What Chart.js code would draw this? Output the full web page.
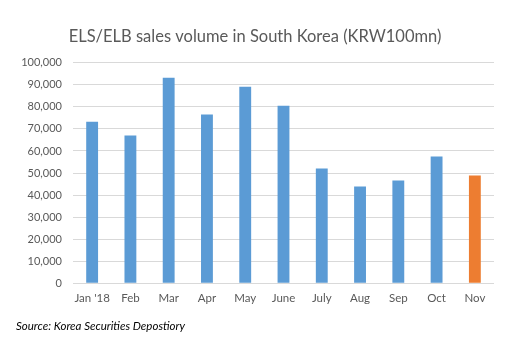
<!DOCTYPE html>
<html>
<head>
<meta charset="utf-8">
<script src="https://cdn.jsdelivr.net/npm/chart.js@4/dist/chart.umd.min.js"></script>
<style>
html,body{margin:0;padding:0;background:#fff;}
canvas{display:block;}
</style>
</head>
<body>
<canvas id="c" width="511" height="351"></canvas>
<script>
const categories = ["Jan '18","Feb","Mar","Apr","May","June","July","Aug","Sep","Oct","Nov"];
const salesVolume = [73300,67000,93200,76500,89100,80500,52000,43900,46600,57500,48900];
const barColors = ["#5B9BD5","#5B9BD5","#5B9BD5","#5B9BD5","#5B9BD5","#5B9BD5","#5B9BD5","#5B9BD5","#5B9BD5","#5B9BD5","#ED7D31"];
const yTickMax = 100000;
const yTickStep = 10000;

new Chart(document.getElementById('c'), {
  type: 'bar',
  data: {
    labels: categories,
    datasets: [{
      data: salesVolume,
      backgroundColor: barColors,
      borderWidth: 0,
      barPercentage: 0.31,
      categoryPercentage: 1
    }]
  },
  options: {
    responsive: false,
    animation: false,
    devicePixelRatio: 1,
    layout: { padding: { left: 16, right: 17, top: 0, bottom: 0 } },
    plugins: {
      legend: { display: false },
      tooltip: { enabled: false },
      title: {
        display: true,
        text: 'ELS/ELB sales volume in South Korea (KRW100mn)',
        color: '#595959',
        font: { family: 'Lato', size: 16.5, weight: 'normal' },
        padding: { top: 27, bottom: 16 }
      },
      subtitle: {
        display: true,
        position: 'bottom',
        align: 'start',
        text: 'Source: Korea Securities Depostiory',
        color: '#000000',
        font: { family: 'Lato', size: 11.5, style: 'italic', weight: 'normal' },
        padding: { top: 12, bottom: 18 }
      }
    },
    scales: {
      x: {
        grid: { display: false, drawTicks: false },
        border: { display: false },
        ticks: { color: '#595959', font: { family: 'Lato', size: 11.5 }, padding: 8, maxRotation: 0, autoSkip: false },
        afterFit: (s) => { s.height = 24; }
      },
      y: {
        min: 0,
        max: yTickMax,
        grid: { color: '#D9D9D9', drawTicks: false, lineWidth: 1 },
        border: { display: false },
        ticks: {
          stepSize: yTickStep,
          color: '#595959',
          font: { family: 'Lato', size: 11 },
          padding: 11,
          callback: (v) => v.toLocaleString('en-US')
        },
        afterFit: (s) => { s.width = 57; }
      }
    }
  }
});
</script>
</body>
</html>
